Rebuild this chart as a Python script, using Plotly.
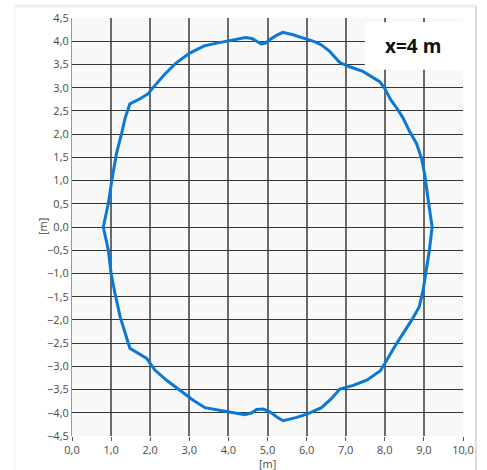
import plotly.graph_objects as go

# Cross-section contour at x=4 m (coordinates in metres), traced clockwise
contour_x = [0.80, 0.93, 1.02, 1.14, 1.27, 1.36, 1.48, 1.74, 1.95, 2.05, 2.36, 2.66, 3.00, 3.38, 3.77,
             4.03, 4.28, 4.44, 4.60, 4.72, 4.84, 4.95, 5.05, 5.22, 5.39, 5.65, 5.99, 6.20, 6.38, 6.59,
             6.85, 7.10, 7.44, 7.87, 8.00, 8.15, 8.34, 8.47, 8.64, 8.81, 8.94, 9.03, 9.11, 9.21,
             9.14, 9.05, 8.98, 8.88, 8.69, 8.47, 8.30, 8.00, 7.88, 7.54, 7.19, 6.85, 6.64, 6.38,
             6.04, 5.75, 5.40, 5.24, 5.06, 4.89, 4.72, 4.60, 4.42, 4.13, 3.78, 3.40, 3.10, 2.76,
             2.42, 2.12, 1.91, 1.48, 1.36, 1.23, 1.10, 1.00, 0.93, 0.80]
contour_y = [0.00, 0.51, 1.01, 1.59, 2.02, 2.35, 2.65, 2.76, 2.87, 2.98, 3.28, 3.53, 3.74, 3.90, 3.97,
             4.01, 4.06, 4.08, 4.06, 4.00, 3.94, 3.96, 4.03, 4.12, 4.19, 4.14, 4.05, 3.99, 3.92, 3.78,
             3.54, 3.45, 3.35, 3.13, 2.98, 2.74, 2.52, 2.34, 2.05, 1.80, 1.48, 1.08, 0.58, 0.00,
             -0.50, -1.00, -1.36, -1.72, -2.00, -2.29, -2.51, -2.94, -3.10, -3.30, -3.41, -3.49, -3.69, -3.89,
             -4.02, -4.10, -4.17, -4.09, -3.98, -3.92, -3.93, -4.00, -4.04, -4.00, -3.94, -3.89, -3.73, -3.51,
             -3.30, -3.08, -2.83, -2.61, -2.29, -1.93, -1.43, -1.00, -0.50, 0.00]

x_ticks = [0, 1, 2, 3, 4, 5, 6, 7, 8, 9, 10]
y_ticks = [-4.5, -4.0, -3.5, -3.0, -2.5, -2.0, -1.5, -1.0, -0.5, 0.0, 0.5, 1.0, 1.5, 2.0, 2.5, 3.0, 3.5, 4.0, 4.5]
axis_unit = "[m]"
section_label = "x=4 m"

fig = go.Figure()
fig.add_trace(go.Scatter(x=contour_x, y=contour_y, mode="lines",
                         line=dict(color="#0a78d6", width=3), showlegend=False,
                         hoverinfo="skip"))

tick_font = dict(family="Open Sans, Noto Sans, sans-serif", size=11, color="#4a4a4a")

fig.update_layout(
    width=487, height=470,
    margin=dict(l=72, r=24, t=18, b=34),
    paper_bgcolor="white", plot_bgcolor="#f8f8f8",
    separators=", ",
    font=tick_font,
    xaxis=dict(range=[0, 10], tickvals=x_ticks, tickformat=".1f", automargin=False,
               showgrid=True, gridcolor="#6a6a6a", gridwidth=1.5, zeroline=False,
               ticks="outside", ticklen=4, tickcolor="#555555", tickwidth=1,
               showline=False, tickfont=tick_font),
    yaxis=dict(range=[-4.5, 4.5], tickvals=y_ticks, tickformat=".1f", automargin=False,
               showgrid=True, gridcolor="#353535", gridwidth=1, zeroline=False,
               ticks="", showline=True, linecolor="#999999", linewidth=1,
               tickfont=tick_font),
    shapes=[
        dict(type="rect", xref="paper", yref="paper", x0=0.749, x1=1.0, y0=0.876, y1=0.99,
             fillcolor="white", line=dict(width=0), layer="above"),
        dict(type="line", xref="paper", yref="paper", x0=-0.1458, x1=1.0332, y0=1.029, y1=1.029,
             line=dict(color="#eeeeee", width=3)),
        dict(type="line", xref="paper", yref="paper", x0=-0.1458, x1=-0.1458, y0=1.029, y1=-0.2,
             line=dict(color="#eeeeee", width=1)),
        dict(type="line", xref="paper", yref="paper", x0=1.0332, x1=1.0332, y0=1.029, y1=-0.2,
             line=dict(color="#dddddd", width=2)),
    ],
    annotations=[
        dict(text=section_label, xref="paper", yref="paper", x=0.873, y=0.933,
             xanchor="center", yanchor="middle", showarrow=False,
             font=dict(family="Open Sans, Noto Sans, sans-serif", size=19, color="#111111",
                       weight="bold")),
        dict(text=axis_unit, xref="paper", yref="paper", x=0.5, y=-0.0646,
             xanchor="center", yanchor="middle", showarrow=False, font=tick_font),
        dict(text=axis_unit, xref="paper", yref="paper", x=-0.0767, y=0.5, textangle=-90,
             xanchor="center", yanchor="middle", showarrow=False, font=tick_font),
    ],
)

fig.write_html("out.html", config={"displayModeBar": False},
               post_script="document.body.style.margin='0';document.body.style.overflow='hidden';")
